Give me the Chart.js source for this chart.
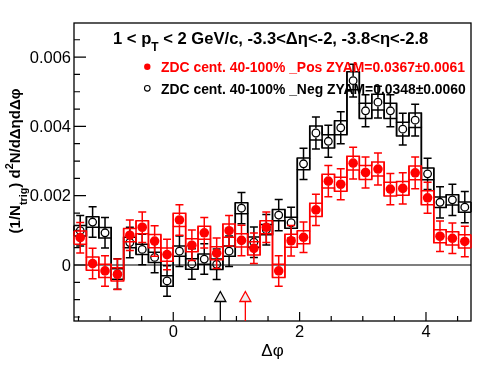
<!DOCTYPE html>
<html>
<head>
<meta charset="utf-8">
<script src="https://cdn.jsdelivr.net/npm/chart.js@4.4.1/dist/chart.umd.min.js"></script>
<style>
  html, body { margin: 0; padding: 0; background: #fff; }
  #wrap { width: 496px; height: 374px; }
</style>
</head>
<body>
<div id="wrap"><canvas id="myChart" width="496" height="374"></canvas></div>
<script>
// Bins em Δφ: 32 bins de -π/2 a 3π/2
const nBins = 32;
const phiMin = -Math.PI / 2;
const phiMax = 3 * Math.PI / 2;
const binWidth = (phiMax - phiMin) / nBins;
const phiCenters = Array.from({ length: nBins }, (_, i) => phiMin + (i + 0.5) * binWidth);

// ZDC cent. 40-100% _Pos (vermelho)
const posValues = [0.00079, 0.00004, -0.00017, -0.00027, 0.00086, 0.00109, 0.00069, 0.00030,
                   0.00130, 0.00057, 0.00093, 0.00034, 0.00099, 0.00071, 0.00048, 0.00109,
                   -0.00017, 0.00070, 0.00080, 0.00159, 0.00242, 0.00233, 0.00294, 0.00267,
                   0.00277, 0.00219, 0.00221, 0.00266, 0.00194, 0.00083, 0.00077, 0.00068];
const posStat = [0.00044, 0.00044, 0.00044, 0.00044, 0.00044, 0.00044, 0.00044, 0.00044,
                 0.00044, 0.00044, 0.00044, 0.00044, 0.00044, 0.00044, 0.00044, 0.00044,
                 0.00044, 0.00044, 0.00044, 0.00045, 0.00045, 0.00045, 0.00046, 0.00045,
                 0.00046, 0.00045, 0.00045, 0.00046, 0.00045, 0.00044, 0.00044, 0.00044];
const posSys = [0.00019, 0.00019, 0.00019, 0.00019, 0.00019, 0.00019, 0.00019, 0.00019,
                0.00019, 0.00019, 0.00019, 0.00019, 0.00019, 0.00019, 0.00019, 0.00019,
                0.00019, 0.00019, 0.00019, 0.00019, 0.00020, 0.00020, 0.00020, 0.00020,
                0.00020, 0.00020, 0.00020, 0.00020, 0.00020, 0.00019, 0.00019, 0.00019];

// ZDC cent. 40-100% _Neg (preto)
const negValues = [0.00099, 0.00124, 0.00093, -0.00026, 0.00065, 0.00045, 0.00022, -0.00046,
                   0.00040, 0.00003, 0.00017, 0.00002, 0.00040, 0.00164, 0.00066, 0.00102,
                   0.00144, 0.00122, 0.00292, 0.00381, 0.00357, 0.00396, 0.00532, 0.00445,
                   0.00470, 0.00445, 0.00392, 0.00418, 0.00263, 0.00181, 0.00188, 0.00167];
const negStat = [0.00044, 0.00044, 0.00044, 0.00044, 0.00044, 0.00044, 0.00044, 0.00044,
                 0.00044, 0.00044, 0.00044, 0.00044, 0.00044, 0.00045, 0.00044, 0.00044,
                 0.00045, 0.00045, 0.00045, 0.00046, 0.00046, 0.00046, 0.00047, 0.00046,
                 0.00046, 0.00046, 0.00046, 0.00046, 0.00045, 0.00045, 0.00045, 0.00045];
const negSys = [0.00015, 0.00015, 0.00015, 0.00015, 0.00015, 0.00015, 0.00015, 0.00015,
                0.00015, 0.00015, 0.00015, 0.00015, 0.00015, 0.00016, 0.00015, 0.00015,
                0.00016, 0.00016, 0.00017, 0.00020, 0.00019, 0.00020, 0.00026, 0.00022,
                0.00023, 0.00022, 0.00020, 0.00021, 0.00017, 0.00015, 0.00015, 0.00015];

// Posições ZYAM (setas)
const zyamPhiPos = 1.141;
const zyamPhiNeg = 0.745;

// Ticks
const xMajorTicks = [0, 2, 4];
const xMajorLabels = ['0', '2', '4'];
const xMinorTicks = [-1.5, -1, -0.5, 0.5, 1, 1.5, 2.5, 3, 3.5, 4.5];
const yMajorTicks = [0, 0.002, 0.004, 0.006];
const yMajorLabels = ['0', '0.002', '0.004', '0.006'];
const yMinorTicks = [-0.0015, -0.001, -0.0005, 0.0005, 0.001, 0.0015, 0.0025, 0.003, 0.0035,
                     0.0045, 0.005, 0.0055, 0.0065];

const FONT = '"Liberation Sans", Arial, Helvetica, sans-serif';
const RED = '#ff0000';

const series = [
    { values: posValues, stat: posStat, sys: posSys, color: RED, radius: 4.8 },
    { values: negValues, stat: negStat, sys: negSys, color: '#000000', radius: 4.4 }
];

// texto com índices (sub / sup)
function richText(ctx, x, y, parts, size, bold, draw) {
    let cx = x;
    for (const [t, kind] of parts) {
        const s = kind ? size * 0.72 : size;
        const dy = kind === 'sub' ? size * 0.45 : kind === 'sup' ? -size * 0.45 : 0;
        ctx.font = (bold ? 'bold ' : '') + s + 'px ' + FONT;
        if (draw) ctx.fillText(t, cx, y + dy);
        cx += ctx.measureText(t).width;
    }
    return cx - x;
}

const rootStyle = {
    id: 'rootStyle',
    beforeDatasetsDraw(chart) {
        const ctx = chart.ctx;
        const xs = chart.scales.x, ys = chart.scales.y;
        const { left, right, top, bottom } = chart.chartArea;
        ctx.save();
        ctx.strokeStyle = '#000';
        ctx.lineWidth = 1.3;
        ctx.strokeRect(left, top, right - left, bottom - top);
        // linha do zero
        const y0 = ys.getPixelForValue(0);
        ctx.lineWidth = 1.2;
        ctx.beginPath(); ctx.moveTo(left, y0); ctx.lineTo(right, y0); ctx.stroke();
        // ticks
        ctx.lineWidth = 1.2;
        ctx.beginPath();
        xMajorTicks.forEach(v => { const p = xs.getPixelForValue(v); ctx.moveTo(p, bottom); ctx.lineTo(p, bottom - 9); });
        xMinorTicks.forEach(v => { const p = xs.getPixelForValue(v); ctx.moveTo(p, bottom); ctx.lineTo(p, bottom - 5); });
        yMajorTicks.forEach(v => { const p = ys.getPixelForValue(v); ctx.moveTo(left, p); ctx.lineTo(left + 12, p); });
        yMinorTicks.forEach(v => { const p = ys.getPixelForValue(v); ctx.moveTo(left, p); ctx.lineTo(left + 6, p); });
        ctx.stroke();
        // rótulos
        ctx.fillStyle = '#000';
        ctx.font = '16.5px ' + FONT;
        ctx.textAlign = 'right'; ctx.textBaseline = 'middle';
        yMajorTicks.forEach((v, i) => ctx.fillText(yMajorLabels[i], left - 3, ys.getPixelForValue(v) + 1));
        ctx.textAlign = 'center'; ctx.textBaseline = 'alphabetic';
        xMajorTicks.forEach((v, i) => ctx.fillText(xMajorLabels[i], xs.getPixelForValue(v), bottom + 16));
        // título do eixo x
        ctx.font = '17px ' + FONT;
        ctx.fillText('\u0394\u03c6', (left + right) / 2, 356);
        // título do eixo y
        const yParts = [['(1/N', null], ['trig', 'sub'], [') d', null], ['2', 'sup'], ['N/d\u0394\u03b7d\u0394\u03c6', null]];
        ctx.textAlign = 'left';
        const w = richText(ctx, 0, 0, yParts, 15, true, false);
        ctx.translate(20, 161);
        ctx.rotate(-Math.PI / 2);
        richText(ctx, -w / 2, 0, yParts, 15, true, true);
        ctx.restore();

        // setas ZYAM
        ctx.save();
        [[zyamPhiNeg, '#000'], [zyamPhiPos, RED]].forEach(([phi, col]) => {
            const p = xs.getPixelForValue(phi);
            ctx.strokeStyle = col; ctx.lineWidth = 1.3;
            ctx.beginPath(); ctx.moveTo(p, bottom - 19.5); ctx.lineTo(p, bottom); ctx.stroke();
            ctx.beginPath();
            ctx.moveTo(p, bottom - 29.5); ctx.lineTo(p + 5.5, bottom - 19.5); ctx.lineTo(p - 5.5, bottom - 19.5); ctx.closePath();
            ctx.fillStyle = '#eeeeee'; ctx.fill(); ctx.stroke();
        });
        ctx.restore();
    },
    beforeDatasetDraw(chart, args) {
        const s = series[args.index];
        const ctx = chart.ctx;
        const xs = chart.scales.x, ys = chart.scales.y;
        ctx.save();
        ctx.strokeStyle = s.color;
        ctx.lineWidth = 1.5;
        // erro sistemático: contornos em degrau (superior e inferior)
        [1, -1].forEach(sign => {
            ctx.beginPath();
            s.values.forEach((v, i) => {
                const x1 = xs.getPixelForValue(phiCenters[i] - binWidth / 2);
                const x2 = xs.getPixelForValue(phiCenters[i] + binWidth / 2);
                const y = ys.getPixelForValue(v + sign * s.sys[i]);
                if (i === 0) ctx.moveTo(x1, y); else ctx.lineTo(x1, y);
                ctx.lineTo(x2, y);
            });
            ctx.stroke();
        });
        ctx.beginPath();
        s.values.forEach((v, i) => {
            const x1 = xs.getPixelForValue(phiCenters[i] - binWidth / 2);
            const yt = ys.getPixelForValue(v + s.sys[i]);
            const yb = ys.getPixelForValue(v - s.sys[i]);
            ctx.moveTo(x1, yt); ctx.lineTo(x1, yb);
            const x2 = xs.getPixelForValue(phiCenters[i] + binWidth / 2);
            ctx.moveTo(x2, yt); ctx.lineTo(x2, yb);
        });
        ctx.stroke();
        // barras de erro estatístico
        ctx.beginPath();
        s.values.forEach((v, i) => {
            const x = xs.getPixelForValue(phiCenters[i]);
            const yc = ys.getPixelForValue(v);
            const yt = ys.getPixelForValue(v + s.stat[i]);
            const yb = ys.getPixelForValue(v - s.stat[i]);
            ctx.moveTo(x, yt); ctx.lineTo(x, yc - s.radius);
            ctx.moveTo(x, yc + s.radius); ctx.lineTo(x, yb);
            ctx.moveTo(x - 4, yt); ctx.lineTo(x + 4, yt);
            ctx.moveTo(x - 4, yb); ctx.lineTo(x + 4, yb);
        });
        ctx.stroke();
        ctx.restore();
    },
    afterDraw(chart) {
        const ctx = chart.ctx;
        ctx.save();
        // título
        ctx.fillStyle = '#000';
        ctx.textAlign = 'left'; ctx.textBaseline = 'alphabetic';
        richText(ctx, 113, 44, [['1 < p', null], ['T', 'sub'], [' < 2 GeV/c, -3.3<\u0394\u03b7<-2, -3.8<\u03b7<-2.8', null]], 16.6, true, true);
        // legenda
        ctx.font = 'bold 13.9px ' + FONT;
        ctx.fillStyle = RED;
        ctx.beginPath(); ctx.arc(147.3, 66.7, 3.2, 0, 2 * Math.PI); ctx.fill();
        ctx.fillText('ZDC cent. 40-100% _Pos ZYAM=0.0367\u00b10.0061', 161, 72);
        ctx.strokeStyle = '#000'; ctx.lineWidth = 1.1; ctx.fillStyle = '#000';
        ctx.beginPath(); ctx.arc(147.3, 88.3, 2.8, 0, 2 * Math.PI); ctx.stroke();
        ctx.fillText('ZDC cent. 40-100% _Neg ZYAM=0.0348\u00b10.0060', 161, 93.7);
        ctx.restore();
    }
};

const ctx = document.getElementById('myChart').getContext('2d');
const myChart = new Chart(ctx, {
    type: 'scatter',
    data: {
        datasets: [{
            label: 'ZDC cent. 40-100% _Pos',
            data: phiCenters.map((x, i) => ({ x: x, y: posValues[i] })),
            pointRadius: 4.8,
            pointBackgroundColor: RED,
            pointBorderColor: RED,
            pointBorderWidth: 0,
            showLine: false
        }, {
            label: 'ZDC cent. 40-100% _Neg',
            data: phiCenters.map((x, i) => ({ x: x, y: negValues[i] })),
            pointRadius: 3.8,
            pointBackgroundColor: 'rgba(0,0,0,0)',
            pointBorderColor: '#000',
            pointBorderWidth: 1.3,
            showLine: false
        }]
    },
    options: {
        responsive: false,
        animation: false,
        layout: { padding: { left: 74, right: 25, top: 23, bottom: 53 } },
        plugins: { legend: { display: false }, tooltip: { enabled: false }, title: { display: false } },
        scales: {
            x: { type: 'linear', min: phiMin, max: phiMax, display: false },
            y: { type: 'linear', min: -0.001616, max: 0.006984, display: false }
        }
    },
    plugins: [rootStyle]
});
</script>
</body>
</html>
